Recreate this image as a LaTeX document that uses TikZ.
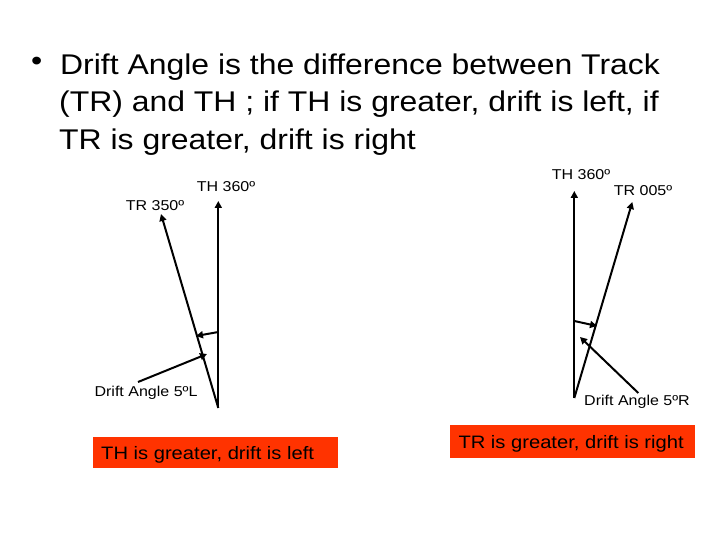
\documentclass[tikz,border=0pt]{standalone}
\usepackage{fontspec}
\setmainfont[FakeStretch=1.12]{Liberation Sans}
\usetikzlibrary{arrows.meta}
\definecolor{boxred}{HTML}{FF3300}
\tikzset{
  vec/.style={line width=2pt,-{Triangle[length=7pt,width=7pt]}},
  small/.style={font=\fontsize{14.3}{16}\selectfont,inner sep=0pt},
  title/.style={font=\fontsize{28.5}{34}\selectfont,inner sep=0pt,anchor=base west},
  tagtext/.style={font=\fontsize{18}{20}\selectfont,inner sep=0pt,anchor=base west}
}
\begin{document}
\begin{tikzpicture}[x=1pt,y=-1pt]
\useasboundingbox (0,0) rectangle (720,540);
% title
\node[title] (b) at (31,71) {•};
\node[title] (l1) at (60,75) {Drift Angle is the difference between Track};
\node[title] (l2) at (59,112) {(TR) and TH ; if TH is greater, drift is left, if};
\node[title] (l3) at (59,150) {TR is greater, drift is right};
% left diagram
\coordinate (LO) at (218.3,408);
\coordinate (LTH) at (218.3,201);
\coordinate (LTR) at (161,214);
\coordinate (LA1) at (218.3,332);
\coordinate (LA2) at (196,336);
\coordinate (LP1) at (138,382);
\coordinate (LP2) at (207,354);
\draw[vec] (LO) -- (LTH);
\draw[vec] (LO) -- (LTR);
\draw[vec] (LA1) -- (LA2);
\draw[vec] (LP1) -- (LP2);
\node[small] (lth) at (226,187) {TH 360º};
\node[small] (ltr) at (155,206) {TR 350º};
\node[small] (lda) at (146,393) {Drift Angle 5ºL};
% right diagram
\coordinate (RO) at (574.3,398);
\coordinate (RTH) at (574.3,191);
\coordinate (RTR) at (632.3,202);
\coordinate (RA1) at (574.3,321);
\coordinate (RA2) at (597,326);
\coordinate (RP1) at (638.3,393);
\coordinate (RP2) at (580,337);
\draw[vec] (RO) -- (RTH);
\draw[vec] (RO) -- (RTR);
\draw[vec] (RA1) -- (RA2);
\draw[vec] (RP1) -- (RP2);
\node[small] (rth) at (581,175) {TH 360º};
\node[small] (rtr) at (643,191) {TR 005º};
\node[small] (rda) at (637,402) {Drift Angle 5ºR};
% boxes
\fill[boxred] (93.3,437.3) rectangle (338.3,468.3);
\node[tagtext] (lbox) at (101,459.5) {TH is greater, drift is left};
\fill[boxred] (450,425) rectangle (695,457.7);
\node[tagtext] (rbox) at (458.3,448.3) {TR is greater, drift is right};
\end{tikzpicture}
\end{document}
